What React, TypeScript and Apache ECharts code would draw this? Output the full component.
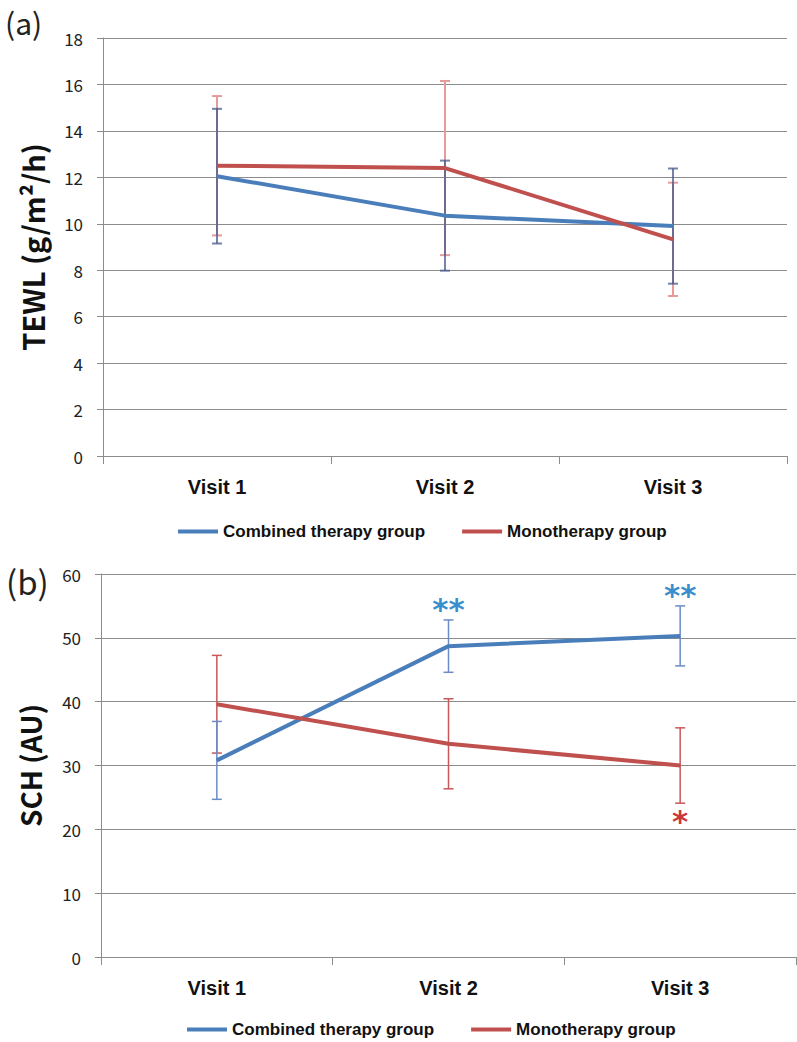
import React, { useEffect, useRef } from "react";
import * as echarts from "echarts";

// Categories
const visits = ["Visit 1", "Visit 2", "Visit 3"];

// (a) TEWL, mean and SD per visit
const tewlCombined = [12.05, 10.35, 9.9];
const tewlCombinedSd = [2.9, 2.37, 2.48];
const tewlMono = [12.5, 12.4, 9.33];
const tewlMonoSd = [3.0, 3.75, 2.44];

// (b) SCH, mean and SD per visit
const schCombined = [30.8, 48.7, 50.3];
const schCombinedSd = [6.1, 4.1, 4.7];
const schMono = [39.6, 33.4, 30.0];
const schMonoSd = [7.65, 7.05, 5.9];

// Significance marks: [visit index, text]
const schCombinedSig: [number, string][] = [
  [1, "**"],
  [2, "**"],
];
const schMonoSig: [number, string][] = [[2, "*"]];

const BLUE = "#4A7EBB";
const RED = "#C0504D";
const GRID = "#8c8c8c";
const NARROW = "'Liberation Sans Narrow', 'Arial Narrow', 'Liberation Sans', Arial, sans-serif";
const KR = "'Noto Sans CJK KR', 'Noto Sans', sans-serif";

function errData(mean: number[], sd: number[]) {
  return mean.map((m, i) => [i, m - sd[i], m + sd[i]]);
}

function errorSeries(
  xAxisIndex: number,
  mean: number[],
  sd: number[],
  color: string,
  width: number,
  z: number
) {
  return {
    type: "custom",
    name: "sd",
    xAxisIndex,
    yAxisIndex: xAxisIndex,
    z,
    silent: true,
    data: errData(mean, sd),
    renderItem: (_params: any, api: any) => {
      const idx = api.value(0);
      const lo = api.coord([idx, api.value(1)]);
      const hi = api.coord([idx, api.value(2)]);
      const w = 5;
      const style = { stroke: color, lineWidth: width };
      return {
        type: "group",
        children: [
          { type: "line", shape: { x1: lo[0], y1: lo[1], x2: hi[0], y2: hi[1] }, style },
          { type: "line", shape: { x1: lo[0] - w, y1: lo[1], x2: lo[0] + w, y2: lo[1] }, style },
          { type: "line", shape: { x1: hi[0] - w, y1: hi[1], x2: hi[0] + w, y2: hi[1] }, style },
        ],
      };
    },
  };
}

function sigSeries(
  xAxisIndex: number,
  marks: [number, string][],
  mean: number[],
  sd: number[],
  above: boolean,
  color: string
) {
  return {
    type: "scatter",
    name: "sig",
    xAxisIndex,
    yAxisIndex: xAxisIndex,
    symbolSize: 0,
    silent: true,
    z: 5,
    data: marks.map(([i, t]) => ({
      value: [i, above ? mean[i] + sd[i] : mean[i] - sd[i]],
      label: { formatter: t },
    })),
    label: {
      show: true,
      position: above ? "top" : "bottom",
      distance: above ? -5 : 2,
      color,
      fontSize: 31,
      fontWeight: "bold",
      fontFamily: "'DejaVu Sans', sans-serif",
      lineHeight: 31,
    },
  };
}

function lineSeries(xAxisIndex: number, name: string, data: number[], color: string) {
  return {
    type: "line",
    name,
    xAxisIndex,
    yAxisIndex: xAxisIndex,
    data,
    showSymbol: false,
    symbol: "none",
    z: 3,
    lineStyle: { color, width: 4 },
    itemStyle: { color },
  };
}

function xAxis(gridIndex: number) {
  return {
    type: "category",
    gridIndex,
    data: visits,
    boundaryGap: true,
    axisLine: { lineStyle: { color: GRID, width: 1 } },
    axisTick: { show: true, length: 8, lineStyle: { color: GRID } },
    axisLabel: {
      margin: 21,
      color: "#111",
      fontSize: 20,
      fontWeight: "bold",
      fontFamily: NARROW,
    },
    splitLine: { show: false },
  };
}

function yAxis(
  gridIndex: number,
  name: string,
  max: number,
  interval: number,
  nameGap: number,
  nameSize: number
) {
  return {
    type: "value",
    gridIndex,
    min: 0,
    max,
    interval,
    name,
    nameLocation: "middle",
    nameGap,
    nameTextStyle: { fontSize: nameSize, fontWeight: "bold", fontFamily: KR, color: "#111" },
    axisLine: { show: true, lineStyle: { color: GRID, width: 1 } },
    axisTick: { show: true, length: 6, lineStyle: { color: GRID } },
    axisLabel: { margin: 20, color: "#222", fontSize: 17, fontFamily: KR },
    splitLine: { show: true, lineStyle: { color: GRID, width: 1 } },
  };
}

const legendText = { fontSize: 17, fontWeight: "bold", fontFamily: NARROW, color: "#111" };

function legend(left: number, top: number) {
  return {
    left,
    top,
    padding: 0,
    itemWidth: 40,
    itemHeight: 4,
    itemGap: 37,
    icon: "rect",
    data: ["Combined therapy group", "Monotherapy group"],
    textStyle: legendText,
    selectedMode: false,
  };
}

export default function App() {
  const ref = useRef<HTMLDivElement>(null);

  useEffect(() => {
    if (!ref.current) return;
    const chart = echarts.init(ref.current, undefined, { renderer: "svg" });
    chart.setOption({
      animation: false,
      backgroundColor: "#fff",
      grid: [
        { left: 103, top: 38, width: 684, height: 418 },
        { left: 101, top: 574, width: 695, height: 383 },
      ],
      xAxis: [xAxis(0), xAxis(1)],
      yAxis: [
        yAxis(0, "TEWL (g/m²/h)", 18, 2, 57, 29),
        yAxis(1, "SCH (AU)", 60, 10, 57, 28),
      ],
      legend: [legend(178, 523), legend(187, 1021)],
      graphic: [
        {
          type: "text",
          left: 5,
          top: 7,
          style: { text: "(a)", fontSize: 30, fontFamily: KR, fill: "#222" },
        },
        {
          type: "text",
          left: 6,
          top: 564,
          style: { text: "(b)", fontSize: 33, fontFamily: KR, fill: "#222" },
        },
      ],
      series: [
        errorSeries(0, tewlMono, tewlMonoSd, "#E79A9A", 2, 1),
        errorSeries(0, tewlCombined, tewlCombinedSd, "rgba(70,90,140,0.75)", 2, 2),
        lineSeries(0, "Combined therapy group", tewlCombined, BLUE),
        lineSeries(0, "Monotherapy group", tewlMono, RED),

        errorSeries(1, schMono, schMonoSd, "#C9575A", 1.5, 1),
        errorSeries(1, schCombined, schCombinedSd, "#6B8CC6", 1.5, 2),
        lineSeries(1, "Combined therapy group", schCombined, BLUE),
        lineSeries(1, "Monotherapy group", schMono, RED),
        sigSeries(1, schCombinedSig, schCombined, schCombinedSd, true, "#0070C0"),
        sigSeries(1, schMonoSig, schMono, schMonoSd, false, "#C00000"),
      ],
    });
    return () => chart.dispose();
  }, []);

  return (
    <div
      ref={ref}
      style={{ position: "absolute", left: 0, top: 0, width: 797, height: 1042, background: "#fff" }}
    />
  );
}
